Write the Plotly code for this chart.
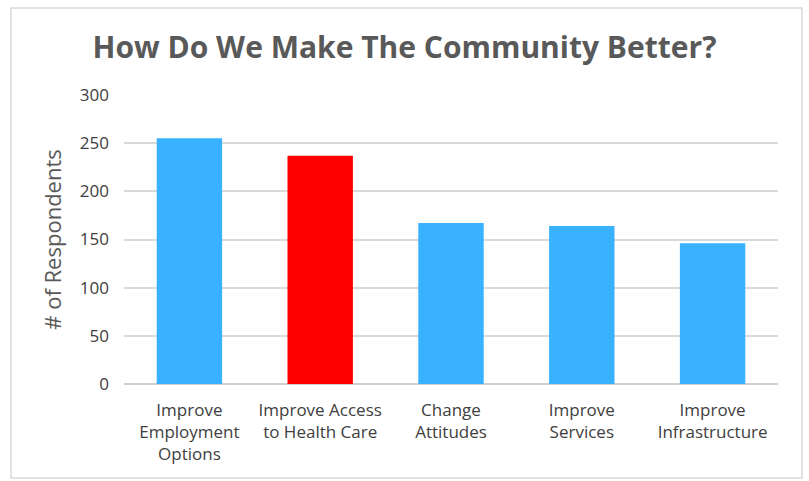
import plotly.graph_objects as go

categories = ["Improve<br>Employment<br>Options", "Improve Access<br>to Health Care",
              "Change<br>Attitudes", "Improve<br>Services", "Improve<br>Infrastructure"]
values = [255, 237, 167, 164, 146]
colors = ["#38B2FF", "#FF0000", "#38B2FF", "#38B2FF", "#38B2FF"]
y_ticks = [0, 50, 100, 150, 200, 250, 300]

W, H = 809, 481
L, R, T, B = 124, 31, 95, 97
pw, ph = W - L - R, H - T - B

def px(x):
    return (x - L) / pw

def py(y):
    return (H - B - y) / ph

fig = go.Figure(go.Bar(x=categories, y=values, marker=dict(color=colors, line=dict(width=0)),
                       width=0.5))

font = "Open Sans, Liberation Sans, sans-serif"
fig.update_layout(
    width=W, height=H,
    margin=dict(l=L, r=R, t=T, b=B),
    paper_bgcolor="white", plot_bgcolor="white",
    showlegend=False,
    title=dict(text="<b>How Do We Make The Community Better?</b>", x=0.5, xanchor="center",
               y=1 - 47 / H, yanchor="middle",
               font=dict(family=font, size=30, color="#595959")),
    xaxis=dict(showgrid=False, showline=False, ticks="", ticklabelstandoff=14,
               tickfont=dict(family=font, size=17, color="#404040"),
               fixedrange=True),
    yaxis=dict(range=[0, 300], tickvals=y_ticks, showgrid=True, gridcolor="#D9D9D9", gridwidth=1.5,
               zeroline=True, zerolinecolor="#D0D0D0", zerolinewidth=1.5,
               showline=False, ticks="", ticklabelstandoff=14,
               tickfont=dict(family=font, size=17, color="#404040"),
               title=dict(text="# of Respondents", font=dict(family=font, size=22, color="#595959"),
                          standoff=12)),
    shapes=[dict(type="rect", xref="paper", yref="paper",
                 x0=px(11), x1=px(802), y0=py(478), y1=py(8),
                 line=dict(color="#D9D9D9", width=1.5), layer="below")],
)

fig.write_html("out.html")
